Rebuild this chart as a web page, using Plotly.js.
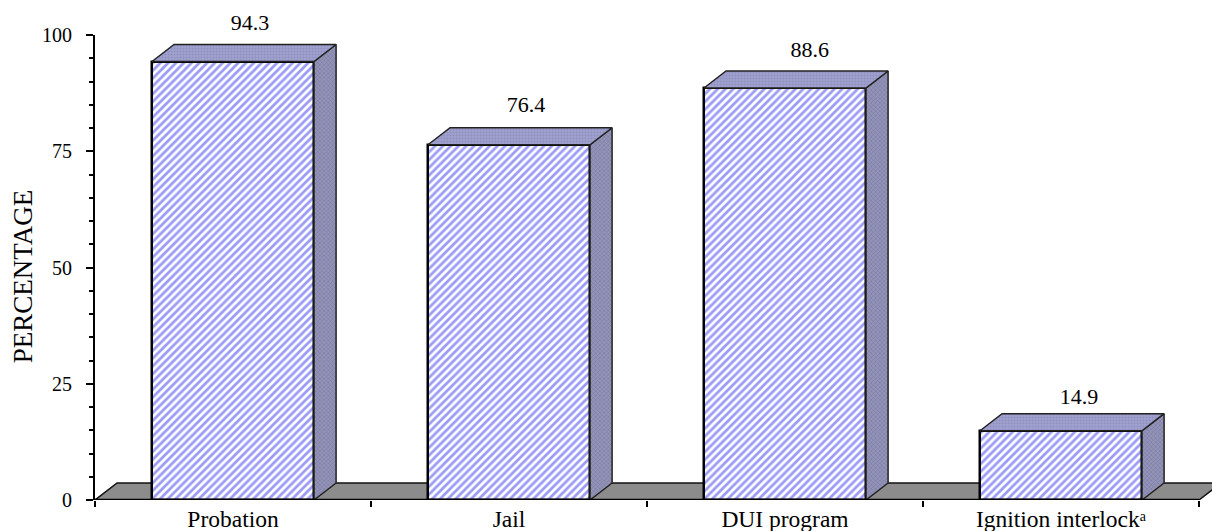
<!DOCTYPE html>
<html>
<head>
<meta charset="utf-8">
<script src="https://cdn.plot.ly/plotly-3.0.1.min.js"></script>
<style>html,body{margin:0;padding:0;background:#fff;overflow:hidden}</style>
</head>
<body>
<div id="chart" style="width:1212px;height:531px"></div>
<script>
const categories = ['Probation', 'Jail', 'DUI program', 'Ignition interlock\u1D43'];
const values = [94.3, 76.4, 88.6, 14.9];
const labels = ['94.3', '76.4', '88.6', '14.9'];
const positions = [0, 1, 2, 3];
const yTicks = [0, 25, 50, 75, 100];
const boundaries = [-0.5, 0.5, 1.5, 2.5, 3.5];

const barWidth = 0.587;
const depthX = 0.08;
const depthY = 3.66;
const labelShiftX = [0.062, 0.062, 0.09, 0.065];
const labelShiftY = [1.9, 2.3, 1.9, 0.8];
const FONT = 'Liberation Serif';
// the plot area runs to the page edge so the floor's right end can show
const xRange = [-0.5, 3.5471];

function poly(xs, ys, fill, pattern, line) {
  return {
    type: 'scatter', mode: 'lines', x: xs, y: ys, xaxis: 'x2', yaxis: 'y2', fill: 'toself', fillcolor: fill,
    fillpattern: pattern, line: line, cliponaxis: false, hoverinfo: 'skip', showlegend: false
  };
}

const floorLine = {color: '#111', width: 1.5};
const traces = [];
// floor, on the base subplot so the bars lie above it
traces.push({
  type: 'scatter', mode: 'lines',
  x: [boundaries[0], boundaries[0] + depthX, boundaries[4] + depthX, boundaries[4], boundaries[0]],
  y: [0, depthY, depthY, 0, 0],
  fill: 'toself', fillcolor: '#8c8c8c', line: floorLine,
  hoverinfo: 'skip', showlegend: false
});

// front faces
traces.push({
  type: 'bar', x: positions, y: values, width: barWidth, xaxis: 'x2', yaxis: 'y2',
  marker: {
    color: '#ffffff',
    pattern: {shape: '/', bgcolor: '#ffffff', fgcolor: '#9b9bf5', size: 5.5, solidity: 0.5},
    line: {color: '#000', width: 2.5}
  },
  hoverinfo: 'y', showlegend: false
});

positions.forEach((p, i) => {
  const l = p - barWidth / 2, r = p + barWidth / 2, v = values[i];
  // side face
  traces.push(poly([r, r + depthX, r + depthX, r, r], [0, depthY, v + depthY, v, 0],
    '#8d8db5', {shape: 'x', bgcolor: '#9494b8', fgcolor: '#74749c', size: 3, solidity: 0.3},
    {color: '#222', width: 1.5}));
  // top face
  traces.push(poly([l, l + depthX, r + depthX, r, l], [v, v + depthY, v + depthY, v, v],
    '#9c9cc8', {shape: '.', bgcolor: '#a2a2d0', fgcolor: '#9090c0', size: 3, solidity: 0.4},
    {color: '#222', width: 1.5}));
});

// x axis line, stopping at the last category boundary
traces.push({
  type: 'scatter', mode: 'lines', xaxis: 'x2', yaxis: 'y2',
  x: [boundaries[0], boundaries[4]], y: [0, 0],
  line: {color: '#000', width: 2.5}, cliponaxis: false, hoverinfo: 'skip', showlegend: false
});

// value labels
traces.push({
  type: 'scatter', mode: 'text', xaxis: 'x2', yaxis: 'y2',
  x: positions.map((p, i) => p + labelShiftX[i]), y: values.map((v, i) => v + depthY + labelShiftY[i]),
  text: labels, textposition: 'top center', cliponaxis: false,
  textfont: {family: FONT, size: 22, color: '#000'}, hoverinfo: 'skip', showlegend: false
});

const layout = {
  width: 1212, height: 531,
  margin: {l: 95, r: 0, t: 35, b: 31},
  paper_bgcolor: '#fff', plot_bgcolor: 'rgba(0,0,0,0)',
  bargap: 0, showlegend: false,
  font: {family: FONT, size: 20, color: '#000'},
  xaxis: {
    type: 'linear', range: xRange, tickmode: 'array', tickvals: positions, ticktext: categories,
    ticks: '', showgrid: false, zeroline: false, showline: false,
    tickfont: {family: FONT, size: 23.5, color: '#000'}, ticklabelstandoff: 2,
    minor: {tickmode: 'array', tickvals: boundaries, ticks: 'outside', ticklen: 6, tickwidth: 2, tickcolor: '#000', showgrid: false},
    automargin: false
  },
  yaxis: {
    range: [0, 100], tickmode: 'array', tickvals: yTicks, ticks: 'outside', ticklen: 7, tickwidth: 2, tickcolor: '#000',
    showgrid: false, zeroline: false, showline: true, linecolor: '#000', linewidth: 2,
    tickfont: {family: FONT, size: 20, color: '#000'}, ticklabelstandoff: 10,
    minor: {dtick: 5, ticks: 'outside', ticklen: 4, tickwidth: 2, tickcolor: '#000', showgrid: false},
    automargin: false
  },
  xaxis2: {overlaying: 'x', matches: 'x', visible: false, range: xRange},
  yaxis2: {overlaying: 'y', matches: 'y', visible: false, range: [0, 100]},
  annotations: [{
    text: 'PERCENTAGE', textangle: -90, xref: 'paper', yref: 'y', x: -0.065, y: 48, showarrow: false,
    xanchor: 'center', yanchor: 'middle', font: {family: FONT, size: 27, color: '#000'}
  }]
};
Plotly.newPlot('chart', traces, layout, {displayModeBar: false, responsive: false});
</script>
</body>
</html>
